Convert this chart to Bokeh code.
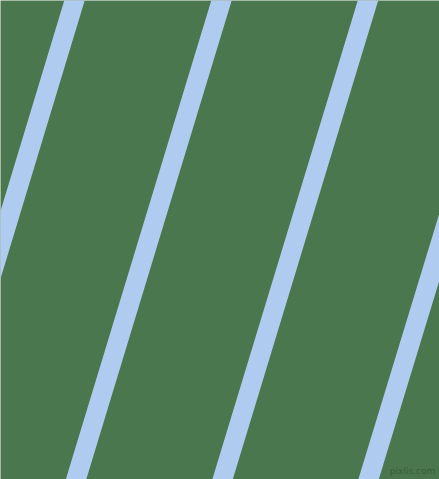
from bokeh.plotting import figure
from bokeh.models import Range1d, ColumnDataSource
from bokeh.core.properties import value
from bokeh.embed import file_html
from bokeh.resources import INLINE

# stripe centre positions (px) read at the top (y=0) and bottom (y=479) edges
stripe_top_x = [74, 221, 367.5, 514]
stripe_bottom_x = [-71, 75.5, 222, 368]
edge_top_y = 0
edge_bottom_y = 479

watermark_text = ["pixlis.com"]
watermark_x = [412]
watermark_y = [470]

BG = "#4a774d"
STRIPE = "#b0cbf0"

p = figure(width=439, height=479, output_backend="svg", toolbar_location=None,
           x_range=Range1d(0, 439), y_range=Range1d(479, 0),
           min_border=0, background_fill_color=BG, border_fill_color=BG,
           outline_line_color=None)
p.axis.visible = False
p.grid.visible = False

src = ColumnDataSource(dict(x0=stripe_top_x, x1=stripe_bottom_x,
                            y0=[edge_top_y] * len(stripe_top_x),
                            y1=[edge_bottom_y] * len(stripe_top_x)))
p.segment(x0="x0", y0="y0", x1="x1", y1="y1", source=src,
          line_color=STRIPE, line_width=19.6, line_cap="square")

p.text(x=watermark_x, y=watermark_y, text=watermark_text,
       text_font=value("DejaVu Sans"), text_font_size="9px",
       text_color="#375d3c", text_align="center", text_baseline="middle")

open("out.html", "w").write(file_html(p, INLINE))
